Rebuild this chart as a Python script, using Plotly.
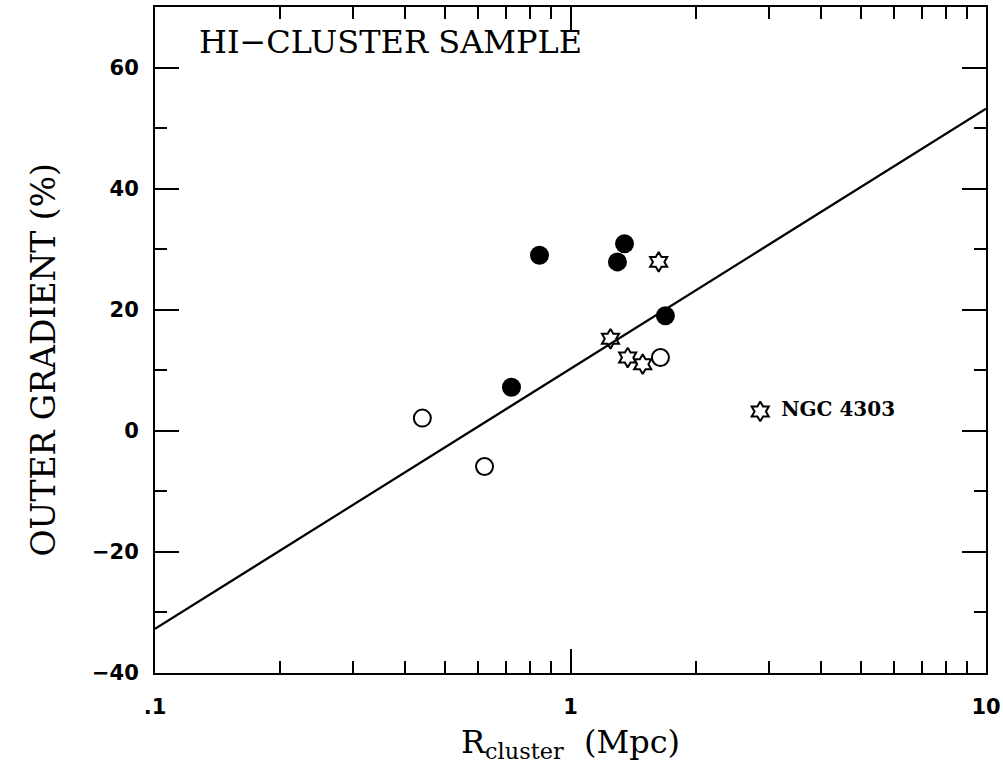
import plotly.graph_objects as go

# Data
filled_x = [0.842, 1.349, 1.297, 1.692, 0.721]
filled_y = [29.0, 30.9, 27.9, 19.0, 7.2]

open_x = [0.440, 0.621, 1.646]
open_y = [2.1, -5.9, 12.1]

star_x = [1.630, 1.248, 1.373, 1.492, 2.862]
star_y = [27.9, 15.2, 12.1, 11.0, 3.2]
star_labels = ["", "", "", "", "NGC 4303"]

fit_x = [0.1, 10]
fit_y = [-32.7, 53.2]

x_tickvals = [0.1, 1, 10]
x_ticktext = [".1", "1", "10"]
x_minor = [0.2, 0.3, 0.4, 0.5, 0.6, 0.7, 0.8, 0.9, 2, 3, 4, 5, 6, 7, 8, 9]
y_tickvals = [-40, -20, 0, 20, 40, 60]
y_minor = [-30, -10, 10, 30, 50]

fig = go.Figure()
fig.add_trace(go.Scatter(x=fit_x, y=fit_y, mode="lines",
                         line=dict(color="black", width=2.2), showlegend=False))
fig.add_trace(go.Scatter(x=filled_x, y=filled_y, mode="markers",
                         marker=dict(symbol="circle", size=19, color="black"),
                         showlegend=False))
fig.add_trace(go.Scatter(x=open_x, y=open_y, mode="markers",
                         marker=dict(symbol="circle-open", size=17, color="black",
                                     line=dict(width=2)),
                         showlegend=False))
fig.add_trace(go.Scatter(x=star_x, y=star_y, mode="markers",
                         marker=dict(symbol="hexagram-open", size=15, color="black",
                                     line=dict(width=2)),
                         showlegend=False))

# labels for the labelled stars
lab_x = [x for x, t in zip(star_x, star_labels) if t]
lab_y = [y for y, t in zip(star_y, star_labels) if t]
lab_t = ["\u00a0\u00a0\u00a0" + t for t in star_labels if t]
fig.add_trace(go.Scatter(x=lab_x, y=lab_y, mode="text", text=lab_t,
                         textposition="middle right",
                         textfont=dict(family="DejaVu Serif", size=20, color="black",
                                       weight="bold"),
                         showlegend=False))

fig.add_annotation(x=0.051, y=0.947, xref="paper", yref="paper",
                   xanchor="left", yanchor="middle", showarrow=False,
                   text="HI\u2212CLUSTER SAMPLE",
                   font=dict(family="DejaVu Serif", size=32, color="black"))

fig.add_annotation(x=-0.133, y=0.47, xref="paper", yref="paper",
                   xanchor="center", yanchor="middle", showarrow=False,
                   textangle=-90, text="OUTER GRADIENT (%)",
                   font=dict(family="DejaVu Serif", size=33, color="black"))

fig.update_xaxes(type="log", range=[-1, 1], automargin=False,
                 tickmode="array", tickvals=x_tickvals, ticktext=x_ticktext,
                 ticks="inside", ticklen=24, tickwidth=1.5, tickcolor="black",
                 minor=dict(tickmode="array", tickvals=x_minor, ticks="inside",
                            ticklen=12, tickwidth=1.5, tickcolor="black"),
                 showline=True, linewidth=2, linecolor="black", mirror="allticks",
                 showgrid=False, zeroline=False,
                 ticklabelstandoff=14,
                 tickfont=dict(family="DejaVu Sans", size=21, color="black",
                               weight="bold"),
                 title=dict(text="R<sub>cluster</sub>  (Mpc)", standoff=12,
                            font=dict(family="DejaVu Serif", size=32, color="black")))
fig.update_yaxes(range=[-40, 70], automargin=False,
                 tickmode="array", tickvals=y_tickvals,
                 ticks="inside", ticklen=24, tickwidth=1.5, tickcolor="black",
                 minor=dict(tickmode="array", tickvals=y_minor, ticks="inside",
                            ticklen=12, tickwidth=1.5, tickcolor="black"),
                 showline=True, linewidth=2, linecolor="black", mirror="allticks",
                 showgrid=False, zeroline=False,
                 ticklabelstandoff=10,
                 tickfont=dict(family="DejaVu Sans", size=21, color="black",
                               weight="bold"))

fig.update_layout(width=1003, height=765,
                  margin=dict(l=155, r=17, t=7, b=92),
                  paper_bgcolor="white", plot_bgcolor="white")

fig.write_html("out.html", config={"displayModeBar": False},
               post_script="document.body.style.margin='0';document.body.style.padding='0';document.body.style.overflow='hidden';")
